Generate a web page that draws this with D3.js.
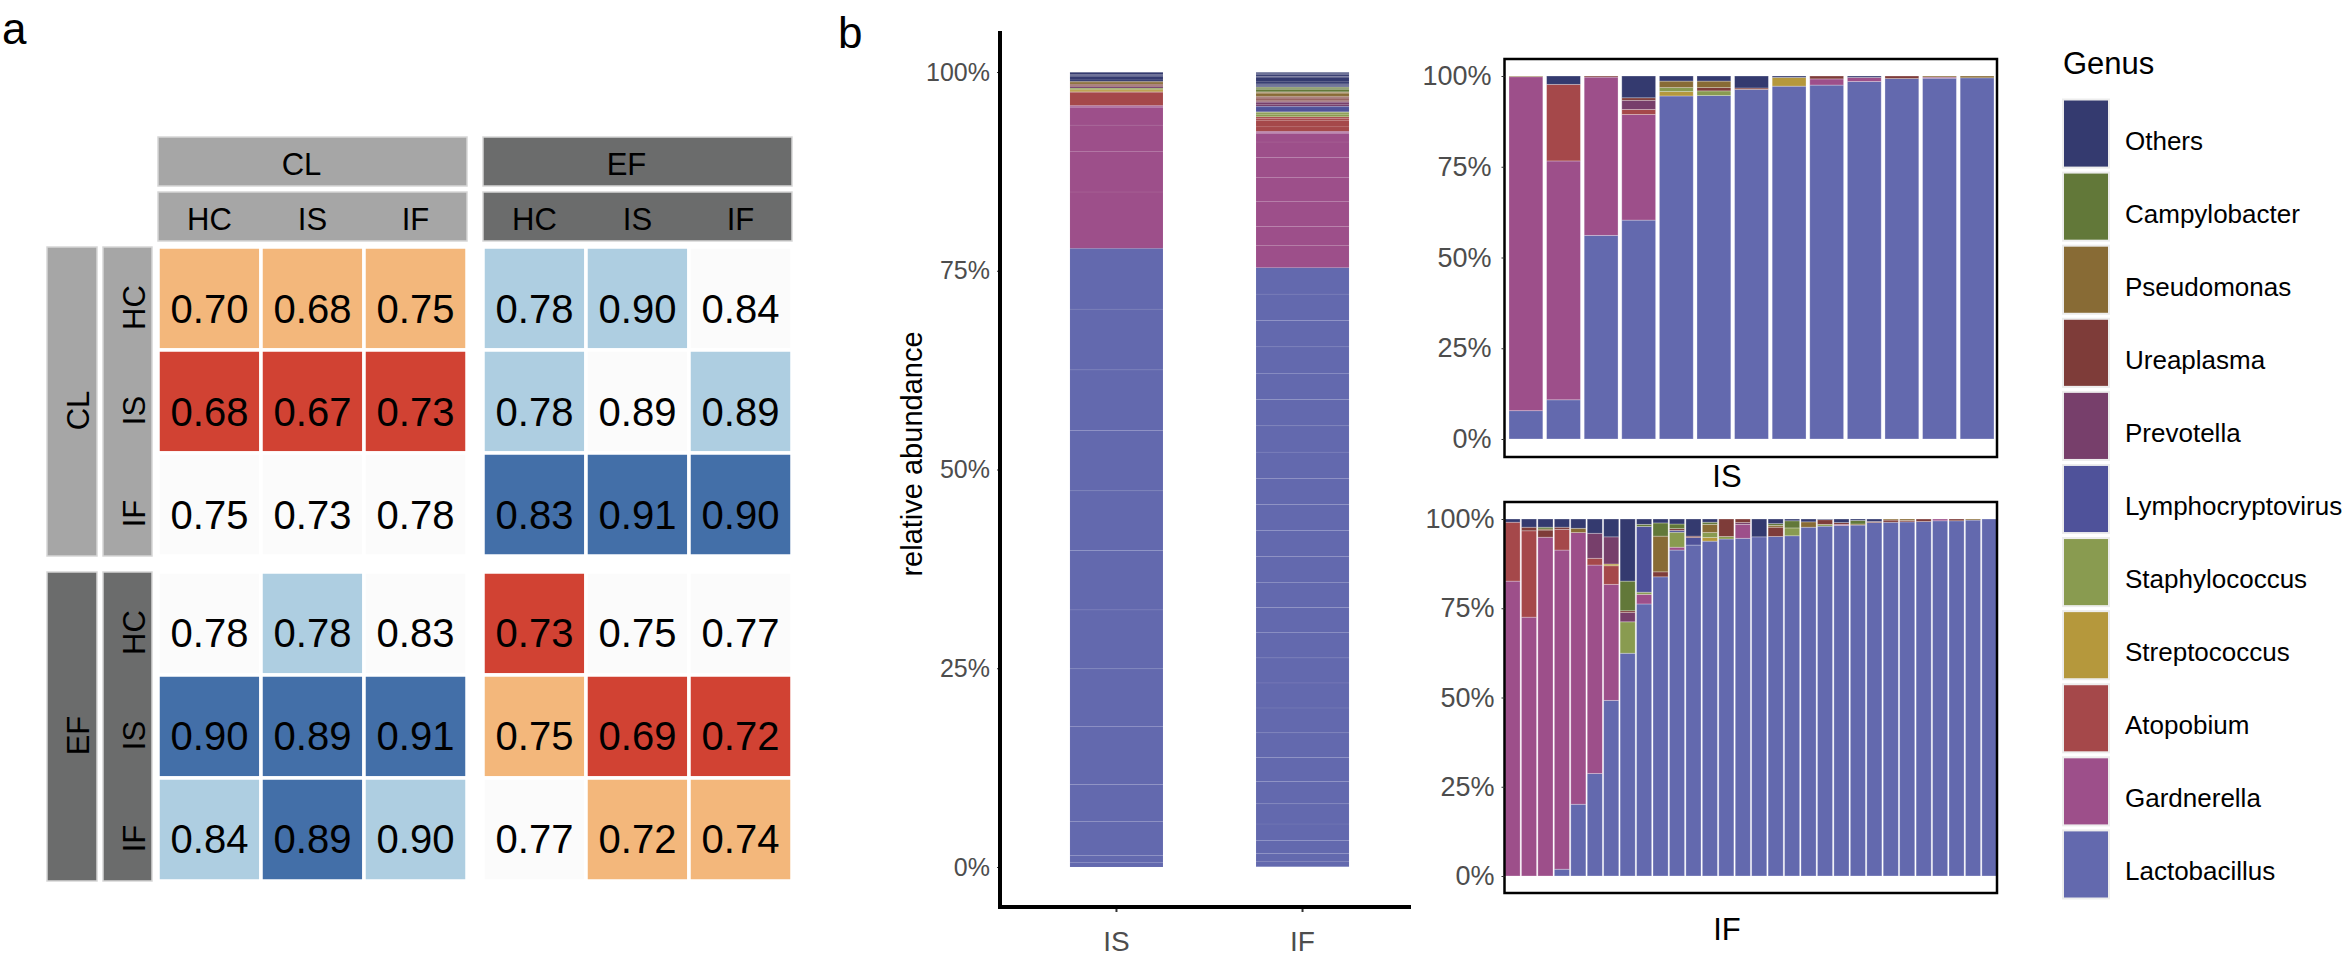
<!DOCTYPE html>
<html><head><meta charset="utf-8">
<script src="https://cdn.jsdelivr.net/npm/d3@7"></script>
<style>
html,body{margin:0;padding:0;background:#fff;}
svg text{font-family:"Liberation Sans", Arial, Helvetica, sans-serif;}
</style></head>
<body>
<svg id="chart" width="2344" height="957"></svg>
<script>
// ================= DATA =================
// ---- panel a: correlation heatmap ----
const groups = ["CL", "EF"];
const conditions = ["HC", "IS", "IF"];
// rows / cols order: CL-HC, CL-IS, CL-IF, EF-HC, EF-IS, EF-IF
const corrValues = [
  [0.70, 0.68, 0.75, 0.78, 0.90, 0.84],
  [0.68, 0.67, 0.73, 0.78, 0.89, 0.89],
  [0.75, 0.73, 0.78, 0.83, 0.91, 0.90],
  [0.78, 0.78, 0.83, 0.73, 0.75, 0.77],
  [0.90, 0.89, 0.91, 0.75, 0.69, 0.72],
  [0.84, 0.89, 0.90, 0.77, 0.72, 0.74]
];
// colour class of each cell: -2 red, -1 orange, 0 white, 1 light blue, 2 dark blue
const corrLevels = [
  [-1, -1, -1,  1,  1,  0],
  [-2, -2, -2,  1,  0,  1],
  [ 0,  0,  0,  2,  2,  2],
  [ 0,  1,  0, -2,  0,  0],
  [ 2,  2,  2, -1, -2, -2],
  [ 1,  2,  1,  0, -1, -1]
];
const levelDomain = [-2, -1, 0, 1, 2];

// ---- panel b: relative abundance ----
// stacking order, bottom to top
const genera = ["Lactobacillus", "Gardnerella", "Atopobium", "Streptococcus", "Staphylococcus",
  "Lymphocryptovirus", "Prevotella", "Ureaplasma", "Pseudomonas", "Campylobacter", "Others"];
const sampleGroups = ["IS", "IF"];
const pctTicks = [0, 0.25, 0.5, 0.75, 1];

// IS: one row per genus (order of `genera`), 13 samples
const isAbundance = [
  [0.078, 0.108, 0.561, 0.603, 0.945, 0.946, 0.963, 0.972, 0.975, 0.985, 0.993, 0.994, 0.995],
  [0.920, 0.658, 0.436, 0.291, 0, 0, 0, 0, 0.017, 0.011, 0, 0.003, 0],
  [0, 0.211, 0, 0.014, 0, 0, 0, 0, 0, 0, 0, 0, 0],
  [0, 0, 0, 0, 0.012, 0, 0, 0.024, 0, 0, 0, 0, 0],
  [0, 0, 0, 0, 0.011, 0.013, 0, 0, 0, 0, 0, 0, 0],
  [0, 0, 0, 0, 0, 0, 0, 0, 0, 0, 0, 0, 0],
  [0, 0, 0, 0.025, 0, 0, 0, 0, 0, 0, 0, 0, 0],
  [0, 0, 0.003, 0.007, 0, 0.009, 0.004, 0, 0.008, 0, 0.007, 0, 0],
  [0.002, 0, 0, 0, 0.018, 0.018, 0, 0, 0, 0, 0, 0.003, 0.005],
  [0, 0, 0, 0, 0, 0, 0, 0, 0, 0, 0, 0, 0],
  [0, 0.023, 0, 0.060, 0.014, 0.014, 0.033, 0.004, 0, 0.004, 0, 0, 0]
];
// IF: one row per genus (order of `genera`), 30 samples
const ifAbundance = [
  [0, 0, 0, 0.019, 0.201, 0.287, 0.492, 0.624, 0.762, 0.838, 0.913, 0.927, 0.938, 0.944, 0.946, 0.950, 0.951, 0.953, 0.977, 0.980, 0.982, 0.983, 0.990, 0.991, 0.992, 0.993, 0.995, 0.995, 0.997, 1.000],
  [0.826, 0.725, 0.949, 0.894, 0.761, 0.584, 0.325, 0, 0.027, 0, 0.008, 0, 0, 0, 0.039, 0, 0, 0, 0, 0, 0.003, 0, 0, 0, 0, 0, 0.005, 0, 0, 0],
  [0.165, 0.242, 0, 0.058, 0, 0.019, 0.052, 0, 0, 0, 0, 0, 0, 0, 0, 0, 0, 0, 0, 0, 0, 0, 0, 0, 0, 0, 0, 0, 0, 0],
  [0, 0, 0, 0, 0, 0, 0.005, 0, 0, 0, 0, 0, 0.010, 0, 0, 0, 0, 0, 0, 0, 0, 0, 0, 0, 0, 0, 0, 0, 0, 0],
  [0, 0, 0, 0, 0, 0, 0, 0.088, 0.006, 0, 0.042, 0, 0.014, 0.007, 0, 0, 0, 0.022, 0, 0.005, 0, 0, 0, 0, 0, 0, 0, 0, 0, 0],
  [0, 0, 0, 0, 0, 0, 0, 0, 0.184, 0, 0.005, 0.021, 0, 0, 0, 0, 0, 0, 0, 0, 0, 0, 0, 0, 0, 0, 0, 0, 0, 0],
  [0, 0, 0, 0, 0, 0.070, 0.076, 0.026, 0, 0, 0, 0, 0, 0, 0.005, 0, 0, 0, 0, 0, 0, 0, 0, 0, 0, 0, 0, 0, 0, 0],
  [0, 0.010, 0.020, 0.006, 0, 0, 0, 0.005, 0, 0.014, 0.005, 0.004, 0, 0.049, 0.010, 0, 0.026, 0, 0, 0.013, 0.005, 0, 0.003, 0.006, 0.004, 0.007, 0, 0.005, 0, 0],
  [0, 0, 0.003, 0, 0.012, 0, 0, 0, 0, 0.100, 0, 0, 0.023, 0, 0, 0, 0.005, 0, 0.015, 0, 0, 0.003, 0, 0.003, 0.004, 0, 0, 0, 0.003, 0],
  [0, 0, 0.005, 0, 0, 0, 0, 0.083, 0.006, 0.037, 0.013, 0, 0.006, 0, 0, 0, 0.005, 0.020, 0, 0, 0, 0.010, 0, 0, 0, 0, 0, 0, 0, 0],
  [0.009, 0.023, 0.023, 0.023, 0.026, 0.040, 0.050, 0.174, 0.015, 0.011, 0.014, 0.048, 0.009, 0, 0, 0.050, 0.013, 0.005, 0.008, 0.002, 0.010, 0.004, 0.007, 0, 0, 0, 0, 0, 0, 0]
];

// ================= STYLES =================
const genusPalette = ["#6369AE", "#9D4F8A", "#A5484A", "#B5983C", "#899B50",
  "#4F529A", "#773F6B", "#7E3C39", "#886B35", "#627839", "#343A6F"];
const levelPalette = ["#D14233", "#F3B77B", "#FBFBFB", "#AECEE1", "#436FA8"];
const stripPalette = ["#A6A6A6", "#6B6C6C"];
const tickGrey = "#4D4D4D";

const svg = d3.select("#chart");
const color = d3.scaleOrdinal().domain(genera).range(genusPalette);

// panel letters
svg.append("text").attr("x", 2).attr("y", 44).attr("font-size", 44).text("a");
svg.append("text").attr("x", 838).attr("y", 48).attr("font-size", 44).text("b");

// ================= PANEL A =================
const gx = d3.scaleBand().domain(groups).range([158, 792]).paddingInner(0.0492);
const gy = d3.scaleBand().domain(groups).range([247, 881]).paddingInner(0.0492);
const cx = d3.scaleBand().domain(conditions).range([0, gx.bandwidth()]);
const cy = d3.scaleBand().domain(conditions).range([0, gy.bandwidth()]);
const stripFill = d3.scaleOrdinal().domain(groups).range(stripPalette);
const levelColor = d3.scaleOrdinal().domain(levelDomain).range(levelPalette);

const keys = groups.flatMap(g => conditions.map(c => ({ g, c })));
const cells = keys.flatMap((r, i) => keys.map((col, j) => ({ r, col, v: corrValues[i][j], lvl: corrLevels[i][j] })));

const A = svg.append("g");
// column strips
groups.forEach(g => {
  A.append("rect").attr("x", gx(g)).attr("y", 137).attr("width", gx.bandwidth()).attr("height", 49)
    .attr("fill", stripFill(g)).attr("stroke", "#d6d6d6").attr("stroke-width", 1.5);
  A.append("text").attr("x", gx(g) + gx.bandwidth() / 2 - 11).attr("y", 175)
    .attr("text-anchor", "middle").attr("font-size", 31).text(g);
  A.append("rect").attr("x", gx(g)).attr("y", 192).attr("width", gx.bandwidth()).attr("height", 49)
    .attr("fill", stripFill(g)).attr("stroke", "#d6d6d6").attr("stroke-width", 1.5);
  conditions.forEach(c => {
    A.append("text").attr("x", gx(g) + cx(c) + cx.bandwidth() / 2).attr("y", 230)
      .attr("text-anchor", "middle").attr("font-size", 31).text(c);
  });
});
// row strips
groups.forEach(g => {
  A.append("rect").attr("x", 47).attr("y", gy(g)).attr("width", 50).attr("height", gy.bandwidth())
    .attr("fill", stripFill(g)).attr("stroke", "#d6d6d6").attr("stroke-width", 1.5);
  const oy = gy(g) + gy.bandwidth() / 2 + 9;
  A.append("text").attr("x", 89).attr("y", oy).attr("transform", `rotate(-90,89,${oy})`)
    .attr("text-anchor", "middle").attr("font-size", 31).text(g);
  A.append("rect").attr("x", 103).attr("y", gy(g)).attr("width", 49).attr("height", gy.bandwidth())
    .attr("fill", stripFill(g)).attr("stroke", "#d6d6d6").attr("stroke-width", 1.5);
  conditions.forEach(c => {
    const iy = gy(g) + cy(c) + cy.bandwidth() / 2 + 9;
    A.append("text").attr("x", 145).attr("y", iy).attr("transform", `rotate(-90,145,${iy})`)
      .attr("text-anchor", "middle").attr("font-size", 31).text(c);
  });
});
// tiles
const tile = A.selectAll("g.tile").data(cells).join("g").attr("class", "tile");
tile.append("rect")
  .attr("x", d => gx(d.col.g) + cx(d.col.c))
  .attr("y", d => gy(d.r.g) + cy(d.r.c))
  .attr("width", cx.bandwidth()).attr("height", cy.bandwidth())
  .attr("fill", d => levelColor(d.lvl))
  .attr("stroke", "#fff").attr("stroke-width", 3.5);
tile.append("text")
  .attr("x", d => gx(d.col.g) + cx(d.col.c) + cx.bandwidth() / 2)
  .attr("y", d => gy(d.r.g) + cy(d.r.c) + cy.bandwidth() / 2 + 24)
  .attr("text-anchor", "middle").attr("font-size", 40).attr("fill", "#000")
  .text(d => d3.format(".2f")(d.v));

// ================= PANEL B: mean bars =================
const B = svg.append("g");
const abund = { IS: isAbundance, IF: ifAbundance };
const xMid = d3.scaleBand().domain(sampleGroups).range([1000, 1419]).paddingInner(0.5).paddingOuter(0.376);
const yMid = d3.scaleLinear().domain([0, 1]).range([867, 72]);

sampleGroups.forEach(sg => {
  const mat = abund[sg];
  const n = mat[0].length;
  const segs = [];
  let acc = 0;
  genera.forEach((gen, gi) => {
    mat[gi].forEach(v => {
      if (v > 0) { segs.push({ gen, y0: acc, y1: acc + v / n }); acc += v / n; }
    });
  });
  B.selectAll(null).data(segs).join("rect")
    .attr("x", xMid(sg)).attr("width", xMid.bandwidth())
    .attr("y", d => yMid(d.y1)).attr("height", d => yMid(d.y0) - yMid(d.y1))
    .attr("fill", d => color(d.gen))
    .attr("stroke", "rgba(255,255,255,0.09)").attr("stroke-width", 0.6);
});
const yAxMid = B.append("g").attr("transform", "translate(1000,0)")
  .call(d3.axisLeft(yMid).tickValues(pctTicks).tickFormat(d3.format(".0%")).tickSize(3).tickPadding(7));
yAxMid.select(".domain").remove();
yAxMid.selectAll(".tick line").attr("stroke", "#333");
yAxMid.selectAll(".tick text").attr("font-size", 25).attr("fill", tickGrey)
  .style("font-family", '"Liberation Sans", Arial, sans-serif');
const xAxMid = B.append("g").attr("transform", "translate(0,907)")
  .call(d3.axisBottom(xMid).tickSize(5).tickPadding(19));
xAxMid.select(".domain").remove();
xAxMid.selectAll(".tick line").attr("stroke", "#333").attr("stroke-width", 2);
xAxMid.selectAll(".tick text").attr("font-size", 28).attr("fill", tickGrey)
  .style("font-family", '"Liberation Sans", Arial, sans-serif');
B.append("line").attr("x1", 1000).attr("x2", 1000).attr("y1", 31).attr("y2", 909)
  .attr("stroke", "#000").attr("stroke-width", 4);
B.append("line").attr("x1", 998).attr("x2", 1411).attr("y1", 907).attr("y2", 907)
  .attr("stroke", "#000").attr("stroke-width", 4);
B.append("text").attr("x", 922).attr("y", 454).attr("transform", "rotate(-90,922,454)")
  .attr("text-anchor", "middle").attr("font-size", 29).text("relative abundance");

// ================= PANEL B: per-sample facets =================
function facet(sg, mat, box, yRange, xRange, pad, labelPad, titleY) {
  const n = mat[0].length;
  const rows = d3.range(n).map(i => {
    const o = { sample: i };
    genera.forEach((gen, gi) => { o[gen] = mat[gi][i]; });
    return o;
  });
  const x = d3.scaleBand().domain(d3.range(n)).range(xRange).paddingInner(pad);
  const y = d3.scaleLinear().domain([0, 1]).range(yRange);
  const series = d3.stack().keys(genera)(rows);
  const g = svg.append("g");
  g.selectAll("g.ser").data(series).join("g").attr("fill", d => color(d.key))
    .selectAll("rect").data(d => d.filter(s => s[1] - s[0] > 0)).join("rect")
    .attr("x", d => x(d.data.sample)).attr("width", x.bandwidth())
    .attr("y", d => y(d[1])).attr("height", d => y(d[0]) - y(d[1]))
    .attr("stroke", "rgba(255,255,255,0.35)").attr("stroke-width", 0.8);
  g.append("rect").attr("x", box[0]).attr("y", box[1]).attr("width", box[2]).attr("height", box[3])
    .attr("fill", "none").attr("stroke", "#000").attr("stroke-width", 2.5);
  const ax = g.append("g").attr("transform", `translate(${box[0]},0)`)
    .call(d3.axisLeft(y).tickValues(pctTicks).tickFormat(d3.format(".0%")).tickSize(3).tickPadding(labelPad));
  ax.select(".domain").remove();
  ax.selectAll(".tick line").attr("stroke", "#333");
  ax.selectAll(".tick text").attr("font-size", 27).attr("fill", tickGrey)
    .style("font-family", '"Liberation Sans", Arial, sans-serif');
  g.append("text").attr("x", 1727).attr("y", titleY).attr("text-anchor", "middle")
    .attr("font-size", 31).text(sg);
}
facet("IS", isAbundance, [1504.5, 59, 492.5, 398], [439, 76], [1509, 1994], 0.1, 10, 487);
facet("IF", ifAbundance, [1504.5, 502, 492.5, 391], [876, 519], [1505, 1997], 0.08, 7, 940);

// ================= LEGEND =================
const L = svg.append("g");
L.append("text").attr("x", 2063).attr("y", 74).attr("font-size", 31).text("Genus");
const legendOrder = genera.slice().reverse();
const ly = d3.scaleBand().domain(legendOrder).range([97.5, 901.5]).paddingInner(0.0);
legendOrder.forEach(gen => {
  const y0 = ly(gen);
  L.append("rect").attr("x", 2063).attr("y", y0 + 2).attr("width", 46).attr("height", ly.bandwidth() - 5)
    .attr("fill", color(gen)).attr("stroke", "#EDEDED").attr("stroke-width", 2);
  L.append("text").attr("x", 2125).attr("y", y0 + 2 + (ly.bandwidth() - 5) / 2 + 16)
    .attr("font-size", 26).text(gen);
});
</script>
</body></html>
